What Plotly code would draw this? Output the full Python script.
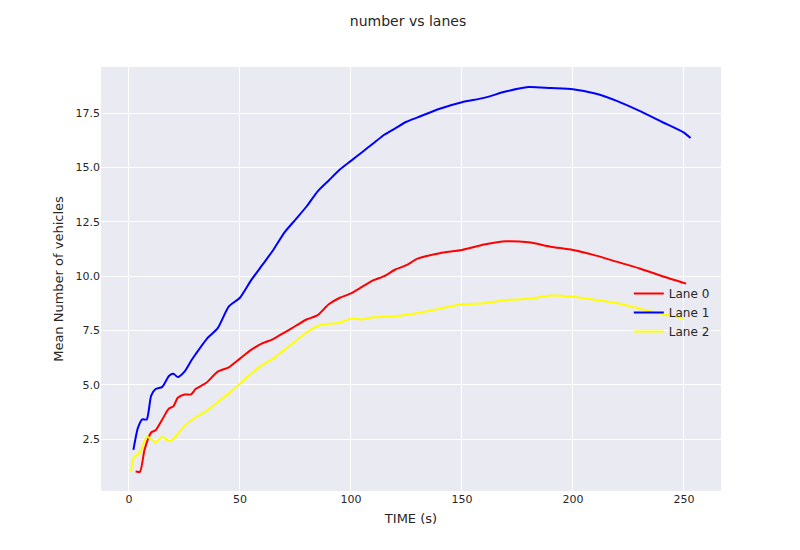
import plotly.graph_objects as go

x0 = [3,5,7,10,12,15,18,20,22,25,28,30,35,40,45,50,55,60,65,70,75,80,85,90,95,100,105,110,115,120,125,130,140,150,160,170,180,190,200,210,220,230,240,251]
y0 = [1.0,1.0,2.0,2.8,2.9,3.4,3.9,4.0,4.4,4.55,4.55,4.8,5.1,5.6,5.8,6.2,6.6,6.9,7.1,7.4,7.7,8.0,8.2,8.7,9.0,9.2,9.5,9.8,10.0,10.3,10.5,10.8,11.05,11.2,11.45,11.6,11.55,11.35,11.2,10.95,10.65,10.35,10.0,9.65]
x1 = [2,4,6,8,10,12,15,18,20,22,25,28,30,35,40,45,50,55,60,65,70,75,80,85,90,95,100,105,110,115,120,125,130,140,150,160,170,180,190,200,210,220,230,240,250,253]
y1 = [2.0,3.0,3.4,3.4,4.5,4.8,4.9,5.4,5.5,5.35,5.6,6.1,6.4,7.1,7.6,8.6,9.0,9.8,10.5,11.2,12.0,12.6,13.2,13.9,14.4,14.9,15.3,15.7,16.1,16.5,16.8,17.1,17.3,17.7,18.0,18.2,18.5,18.7,18.65,18.6,18.4,18.05,17.6,17.1,16.6,16.35]
x2 = [1,2,5,8,10,12,15,18,20,25,30,35,40,45,50,55,60,65,70,75,80,85,90,95,100,105,110,120,130,140,150,160,170,180,190,200,210,220,230,240,250]
y2 = [1.0,1.6,1.9,2.6,2.5,2.35,2.6,2.4,2.5,3.1,3.5,3.8,4.2,4.6,5.05,5.5,5.9,6.2,6.6,7.0,7.4,7.7,7.8,7.85,8.05,8.0,8.1,8.15,8.3,8.5,8.7,8.75,8.9,8.95,9.1,9.05,8.9,8.75,8.5,8.25,8.05]

fig = go.Figure()
for x, y, n, c in [(x0, y0, "Lane 0", "red"), (x1, y1, "Lane 1", "blue"), (x2, y2, "Lane 2", "yellow")]:
    fig.add_trace(go.Scatter(x=x, y=y, name=n, mode="lines", line=dict(color=c, width=2, shape="spline", smoothing=0.6)))

fig.update_layout(
    width=800, height=550, paper_bgcolor="white", plot_bgcolor="#EAEAF2",
    font=dict(family="DejaVu Sans", size=11, color="#262626"),
    title=dict(text="number vs lanes", x=0.5, y=0.985, yanchor="top", xanchor="center", font=dict(size=14)),
    margin=dict(l=93, r=87, t=59, b=67),
    xaxis=dict(title=dict(text="TIME (s)", font=dict(size=13), standoff=8), range=[-12.6, 266.7], tickvals=[0,50,100,150,200,250],
               gridcolor="white", gridwidth=1.2, zeroline=False, showline=False, ticks=""),
    yaxis=dict(title=dict(text="Mean Number of vehicles", font=dict(size=13), standoff=8), range=[0.107, 19.62],
               tickvals=[2.5,5,7.5,10,12.5,15,17.5], ticktext=["2.5","5.0","7.5","10.0","12.5","15.0","17.5"],
               gridcolor="white", gridwidth=1.2, zeroline=False, showline=False, ticks=""),
    legend=dict(x=0.99, y=0.5, xanchor="right", yanchor="top", bgcolor="rgba(0,0,0,0)", font=dict(size=12)),
)
fig.write_html("out.html")
